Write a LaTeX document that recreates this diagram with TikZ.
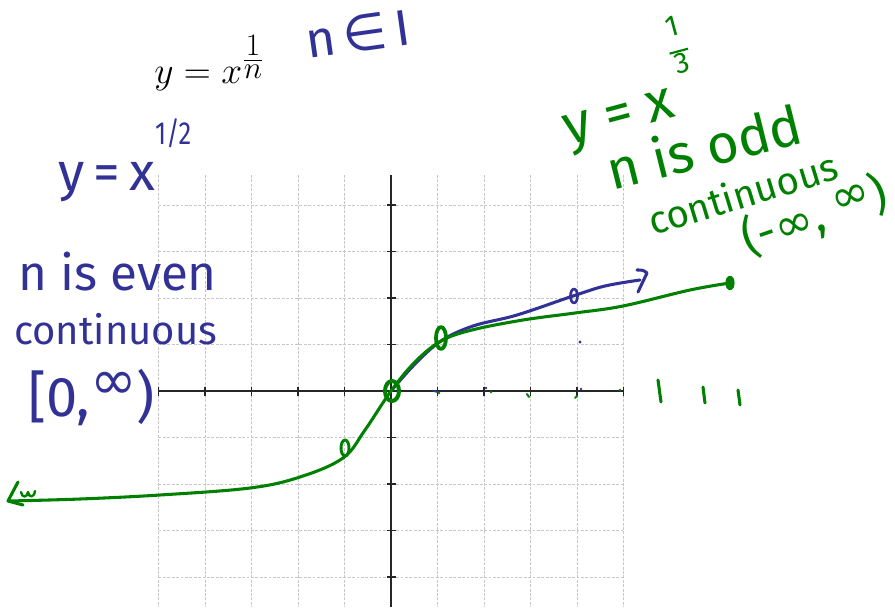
\documentclass[tikz,border=0pt]{standalone}
\usepackage{fontspec}
\newfontfamily\hand{Fira Sans}
\newfontfamily\sym{DejaVu Sans}
\definecolor{penblue}{RGB}{50,50,150}
\definecolor{pengreen}{RGB}{0,128,0}
\definecolor{gridgray}{RGB}{200,200,200}
\tikzset{
  gridline/.style={draw=gridgray, line width=0.75pt, dash pattern=on 2.2pt off 1.1pt},
  axisline/.style={draw=black!85, line width=1.1pt},
  pen/.style={line width=2.3pt, line cap=round, line join=round},
  bluepen/.style={pen, draw=penblue},
  greenpen/.style={pen, draw=pengreen},
  hb/.style={text=penblue, inner sep=0pt, font=\hand},
  hg/.style={text=pengreen, inner sep=0pt, font=\hand},
}
\begin{document}
\begin{tikzpicture}[x=0.75pt, y=-0.75pt]
\useasboundingbox (0,0) rectangle (895,607);
% grid
\foreach \i in {-5,...,5} \draw[gridline] ({391+46.5*\i},175) -- ({391+46.5*\i},607);
\foreach \j in {-4,...,4} \draw[gridline] (158.5,{391+46.5*\j}) -- (623.5,{391+46.5*\j});
% axes
\coordinate (O) at (391,391);
\draw[axisline] (158.5,391) -- (623.5,391);
\draw[axisline] (391,175) -- (391,607);
\foreach \i in {-5,...,5} \draw[axisline, line width=0.9pt] ({391+46.5*\i},386.5) -- ({391+46.5*\i},395.5);
\foreach \j in {-4,...,4} \draw[axisline, line width=0.9pt] (386.5,{391+46.5*\j}) -- (395.5,{391+46.5*\j});

% printed formula
\node[anchor=base west, inner sep=0pt] (formula) at (154,83) {\scalebox{1.13}{\fontsize{24.88}{28}\selectfont $y = x^{\frac{\scriptstyle 1}{\scriptstyle n}}$}};

% blue handwriting
\node[hb, rotate=8] (nI) at (358,34) {\fontsize{38}{40}\selectfont n\,{\sym ∈}\,I};
\node[hb, anchor=base west] (yhalf) at (58,190) {\fontsize{40}{42}\selectfont y\hspace{0.17em}=\hspace{0.17em}x\raisebox{0.85em}{\scalebox{0.8}[1]{\fontsize{24}{26}\selectfont 1/2}}};
\node[hb, anchor=base west] (even) at (18,290) {\fontsize{37}{40}\selectfont n is even};
\node[hb, anchor=base west] (contb) at (14,344) {\fontsize{30}{34}\selectfont continuous};
\node[hb, anchor=base west] (intb) at (28,416) {\fontsize{42}{46}\selectfont [0,\raisebox{0.3em}{\sym ∞})};

% green handwriting
\node[hg, anchor=base west, rotate=15] (ythird) at (568,146) {\fontsize{42}{44}\selectfont y = x\,\raisebox{1.05em}{\fontsize{22}{22}\selectfont\begin{tabular}{@{}c@{}}1\\[-9pt]\rule{0.65em}{1.6pt}\\[-6pt]3\end{tabular}}};
\node[hg, anchor=base west, rotate=14] (odd) at (612,191) {\fontsize{41}{44}\selectfont n is odd};
\node[hg, anchor=base west, rotate=17] (contg) at (653,236) {\fontsize{29}{32}\selectfont continuous};
\node[hg, anchor=base west, rotate=19] (intg) at (748,256) {\fontsize{35}{38}\selectfont (-{\sym ∞}, \raisebox{0.2em}{\sym ∞})};

% blue curve y = x^(1/2)
\draw[bluepen] plot[smooth, tension=0.6] coordinates {(391,391) (415,364) (441,341) (473,326) (517,315) (573,296) (605,286) (640,280)};
\draw[bluepen] (637,270) .. controls (643,270) .. (647,273) -- (638,292);
\draw[bluepen, line width=2pt] (574,296) ellipse (3.5 and 7);

% green curve y = x^(1/3)
\draw[greenpen] plot[smooth, tension=0.6] coordinates {(9,501) (80,499) (160,495) (250,488) (300,477) (343,458) (365,430) (391,391) (415,362) (441,341) (472,330) (523,320) (575,313) (623,306) (690,290) (730,283)};
\draw[greenpen] (18,482) -- (8,501) -- (23,505);
\draw[greenpen, line width=1.8pt] (21,492) .. controls (22,498) and (27,498) .. (28,492) .. controls (29,498) and (34,498) .. (35,491);
\draw[greenpen, line width=3pt] (392,391) ellipse (7 and 10);
\draw[greenpen, line width=2.8pt] (441,338) ellipse (5 and 11);
\draw[greenpen, line width=2.2pt] (345,448) ellipse (4 and 8);
\draw[greenpen, fill=pengreen] (730,283) ellipse (3 and 6);

% stray marks
\fill[penblue] (580,342) circle (1.6);
\fill[penblue] (486,388) circle (1.3);
\fill[penblue] (581,389) circle (1.3);
\draw[bluepen, line width=1.5pt] (434,391) -- (438,392);
\fill[pengreen] (439,393) circle (1.4);
\fill[pengreen] (491,392) circle (1.4);
\draw[greenpen, line width=1.5pt] (527,394) -- (529,397);
\draw[greenpen, line width=1.5pt] (575,398) -- (577,396);
\fill[pengreen] (620,390) circle (1.4);
\draw[greenpen] (658,380) -- (661,402);
\draw[greenpen] (703,387) -- (705,403);
\draw[greenpen] (738,390) -- (740,405);
\end{tikzpicture}
\end{document}
